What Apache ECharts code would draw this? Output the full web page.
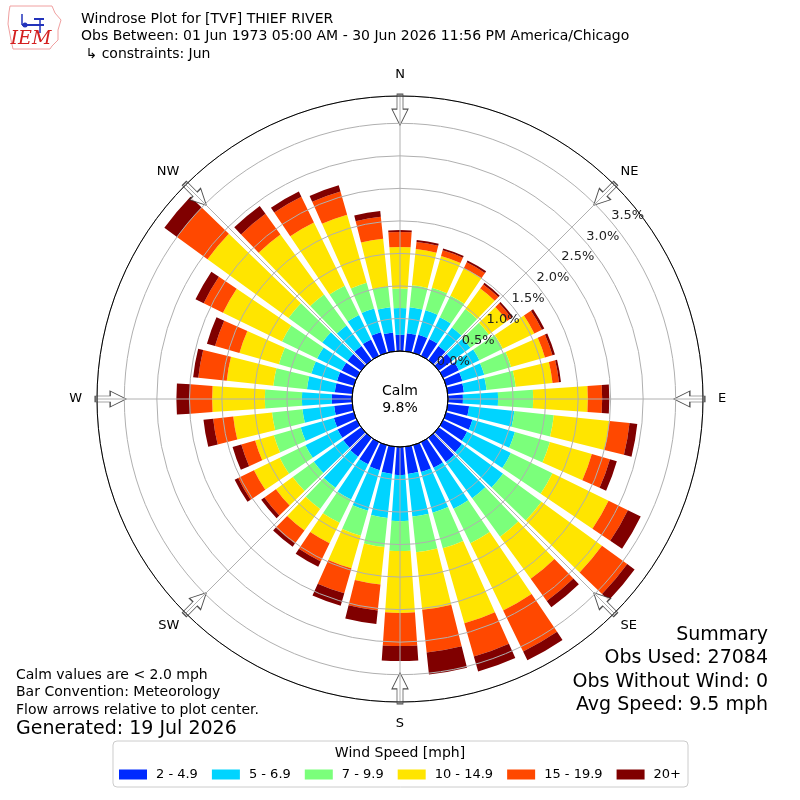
<!DOCTYPE html>
<html><head><meta charset="utf-8">
<script src="https://cdn.jsdelivr.net/npm/echarts@6/dist/echarts.min.js"></script>
<style>html,body{margin:0;padding:0;background:#fff}#c{width:800px;height:800px}</style>
</head><body><div id="c"></div>
<script>
// ---------- data ----------
const directions = [0,10,20,30,40,50,60,70,80,90,100,110,120,130,140,150,160,170,180,190,200,210,220,230,240,250,260,270,280,290,300,310,320,330,340,350];
const speedBins = ['2 - 4.9','5 - 6.9','7 - 9.9','10 - 14.9','15 - 19.9','20+'];
const binColors = ['#002aff','#00d4ff','#7bff7b','#ffe500','#ff4800','#800000'];
// frequency (%) per direction for each speed bin
const bin2to5   = [0.25,0.28,0.29,0.29,0.27,0.26,0.27,0.26,0.25,0.23,0.33,0.42,0.41,0.44,0.46,0.44,0.43,0.42,0.43,0.42,0.40,0.38,0.36,0.34,0.33,0.32,0.28,0.31,0.27,0.27,0.26,0.26,0.27,0.28,0.33,0.29];
const bin5to7   = [0.41,0.40,0.39,0.37,0.35,0.34,0.35,0.35,0.35,0.54,0.70,0.68,0.75,0.78,0.69,0.70,0.65,0.66,0.71,0.68,0.65,0.60,0.59,0.56,0.55,0.53,0.49,0.46,0.43,0.41,0.42,0.48,0.39,0.42,0.38,0.39];
const bin7to10  = [0.30,0.34,0.36,0.37,0.35,0.35,0.40,0.43,0.45,0.54,0.61,0.56,0.71,0.73,0.73,0.59,0.57,0.55,0.46,0.45,0.40,0.40,0.40,0.40,0.44,0.43,0.47,0.57,0.52,0.52,0.60,0.64,0.59,0.50,0.41,0.32];
const bin10to15 = [0.64,0.56,0.51,0.47,0.39,0.35,0.54,0.54,0.57,0.84,0.86,0.67,0.96,1.15,0.80,1.15,1.20,0.89,0.95,0.58,0.52,0.35,0.41,0.32,0.44,0.30,0.60,0.81,0.72,0.63,1.01,1.54,1.14,1.08,1.09,0.74];
const bin15to20 = [0.23,0.11,0.09,0.10,0.08,0.08,0.13,0.12,0.10,0.22,0.31,0.29,0.33,0.48,0.42,0.70,0.53,0.66,0.51,0.40,0.40,0.31,0.25,0.22,0.27,0.22,0.31,0.34,0.44,0.39,0.33,0.58,0.39,0.44,0.37,0.34];
const bin20plus = [0.03,0.03,0.03,0.03,0.03,0.03,0.04,0.04,0.03,0.11,0.12,0.11,0.22,0.14,0.12,0.15,0.24,0.34,0.23,0.21,0.20,0.09,0.06,0.06,0.06,0.14,0.15,0.21,0.08,0.13,0.14,0.24,0.15,0.09,0.10,0.09];
const radialMax = 3.92;
const radialInterval = 0.5;
const radialLabelMax = 3.5;
const compassLabels = ['N','NE','E','SE','S','SW','W','NW'];
const calmPct = 9.8;
const titleLines = ['Windrose Plot for [TVF] THIEF RIVER',
  'Obs Between: 01 Jun 1973 05:00 AM - 30 Jun 2026 11:56 PM America/Chicago',
  ' \u21b3 constraints: Jun'];
const noteLines = ['Calm values are < 2.0 mph','Bar Convention: Meteorology','Flow arrows relative to plot center.'];
const generatedText = 'Generated: 19 Jul 2026';
const summaryLines = ['Summary','Obs Used: 27084','Obs Without Wind: 0','Avg Speed: 9.5 mph'];
const legendTitle = 'Wind Speed [mph]';

// ---------- chart ----------
const FONT = 'DejaVu Sans';
const C = [400, 399], R0 = 48, R1 = 303;
const binData = [bin2to5, bin5to7, bin7to10, bin10to15, bin15to20, bin20plus];
const chart = echarts.init(document.getElementById('c'), null, {renderer: 'canvas'});
const hiddenAxis = {axisLine:{show:false}, axisTick:{show:false}, axisLabel:{show:false}, splitLine:{show:false}, splitArea:{show:false}};

const series = binData.map((d, i) => ({
  type: 'bar', coordinateSystem: 'polar', polarIndex: 0, stack: 'speed',
  name: speedBins[i], data: d, barCategoryGap: '20%',
  itemStyle: {color: binColors[i]}, z: 2, silent: true
}));
series.push({
  type: 'scatter', coordinateSystem: 'polar', polarIndex: 1, silent: true, z: 3,
  symbol: 'path://M5,0 L11,0 L11,15 L16,15 L8,31 L0,15 L5,15 Z',
  symbolSize: [16, 31],
  itemStyle: {color: '#ffffff', borderColor: '#222', borderWidth: 1},
  data: compassLabels.map((_, i) => ({value: [3.71, i * 45], symbolRotate: -i * 45}))
});

const graphic = [];
titleLines.forEach((t, i) => graphic.push({type:'text', x: 81, y: 19 + i * 17.5,
  style:{text:t, font:'14px "DejaVu Sans"', fill:'#000', align:'left', verticalAlign:'middle'}}));
noteLines.forEach((t, i) => graphic.push({type:'text', x: 16, y: 675 + i * 17.5,
  style:{text:t, font:'14px "DejaVu Sans"', fill:'#000', align:'left', verticalAlign:'middle'}}));
graphic.push({type:'text', x: 16, y: 729, style:{text: generatedText, font:'19px "DejaVu Sans"', fill:'#000', align:'left', verticalAlign:'middle'}});
summaryLines.forEach((t, i) => graphic.push({type:'text', x: 768, y: 635 + i * 23.4,
  style:{text:t, font:'19px "DejaVu Sans"', fill:'#000', align:'right', verticalAlign:'middle'}}));
graphic.push({type:'text', x: 400, y: 391, style:{text:'Calm', font:'14px "DejaVu Sans"', fill:'#000', align:'center', verticalAlign:'middle'}});
graphic.push({type:'text', x: 400, y: 408, style:{text: calmPct.toFixed(1) + '%', font:'14px "DejaVu Sans"', fill:'#000', align:'center', verticalAlign:'middle'}});
graphic.push({type:'text', x: 400, y: 753, style:{text: legendTitle, font:'14px "DejaVu Sans"', fill:'#000', align:'center', verticalAlign:'middle'}, z: 100});
// IEM logo (approximate)
graphic.push({type:'polygon', shape:{points:[[10,6],[52,6],[55,13],[61,20],[58,30],[58,40],[52,46],[50,49],[13,49],[11,40],[8,24],[9,12]]},
  style:{fill:'none', stroke:'#f0a0a0', lineWidth:1}});
graphic.push({type:'polyline', shape:{points:[[22,25],[44,25]]}, style:{stroke:'#2233bb', lineWidth:2}});
graphic.push({type:'polyline', shape:{points:[[22,14],[22,25]]}, style:{stroke:'#2233bb', lineWidth:1.5}});
graphic.push({type:'polyline', shape:{points:[[40,19],[40,33]]}, style:{stroke:'#2233bb', lineWidth:1.5}});
graphic.push({type:'polyline', shape:{points:[[34,19],[44,19]]}, style:{stroke:'#2233bb', lineWidth:2}});
graphic.push({type:'circle', shape:{cx:25, cy:25, r:2.5}, style:{fill:'#2233bb'}});
graphic.push({type:'text', x: 31, y: 39, style:{text:'IEM', font:'italic 19px "DejaVu Serif"', fill:'#d42020', align:'center', verticalAlign:'middle'}});

const option = {
  animation: false,
  backgroundColor: '#ffffff',
  textStyle: {fontFamily: FONT},
  polar: [
    {center: C, radius: [R0, R1]},
    {center: C, radius: [R0, R1]},
    {center: C, radius: [R0, R1]},
    {center: C, radius: [0, R0]}
  ],
  angleAxis: [
    Object.assign({polarIndex: 0, type: 'category', data: directions.map(String), startAngle: 95, clockwise: true, boundaryGap: true}, hiddenAxis),
    {polarIndex: 1, type: 'value', min: 0, max: 360, interval: 45, startAngle: 90, clockwise: true, z: 6,
      axisLine: {show: true, lineStyle: {color: '#000', width: 1}},
      axisTick: {show: false},
      axisLabel: {show: true, margin: 9, fontSize: 13, color: '#000', fontFamily: FONT,
        formatter: v => {
          if (v >= 360) return '';
          const k = Math.round(v / 45);
          return (k % 2 === 0 ? '{c|' : '{d|') + compassLabels[k] + '}';
        },
        rich: {
          c: {fontSize: 13, color: '#000', fontFamily: FONT, padding: [6, 6, 6, 6]},
          d: {fontSize: 13, color: '#000', fontFamily: FONT}
        }},
      splitLine: {show: true, lineStyle: {color: '#b0b0b0', width: 1}}},
    Object.assign({polarIndex: 2, type: 'value', min: 0, max: 360, startAngle: 40, clockwise: true}, hiddenAxis),
    Object.assign({polarIndex: 3, type: 'value', min: 0, max: 360, startAngle: 90, z: 6}, hiddenAxis,
      {axisLine: {show: true, lineStyle: {color: '#000', width: 1}}})
  ],
  radiusAxis: [
    Object.assign({polarIndex: 0, type: 'value', min: 0, max: radialMax}, hiddenAxis),
    Object.assign({polarIndex: 1, type: 'value', min: 0, max: radialMax, interval: radialInterval, z: 5}, hiddenAxis,
      {splitLine: {show: true, lineStyle: {color: '#b0b0b0', width: 1}}}),
    Object.assign({polarIndex: 2, type: 'value', min: 0, max: radialMax, interval: radialInterval, z: 7}, hiddenAxis,
      {axisLabel: {show: true, margin: 0, align: 'left', verticalAlign: 'bottom', fontSize: 13, color: '#222', fontFamily: FONT,
        formatter: v => (v > radialLabelMax + 1e-6 ? '' : v.toFixed(1) + '%')}}),
    Object.assign({polarIndex: 3, type: 'value', min: 0, max: 1}, hiddenAxis)
  ],
  legend: {
    data: speedBins, top: 741, left: 'center', orient: 'horizontal',
    itemWidth: 28, itemHeight: 10, itemGap: 14, icon: 'rect', selectedMode: false,
    padding: [27, 7, 6, 6], borderColor: '#cccccc', borderWidth: 1, borderRadius: 4,
    textStyle: {fontSize: 13, color: '#000', fontFamily: FONT, padding: [0, 0, 0, 4]}
  },
  graphic: graphic,
  series: series
};
chart.setOption(option);
</script></body></html>
